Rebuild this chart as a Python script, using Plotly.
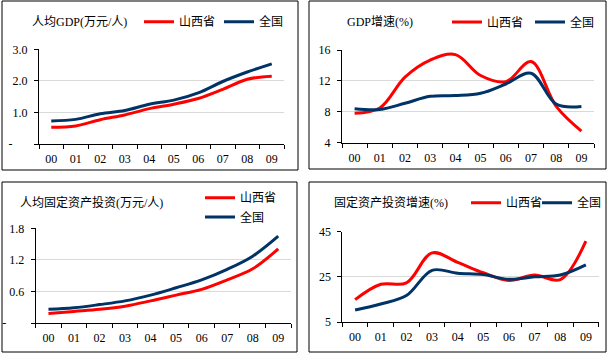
import plotly.graph_objects as go

years = ["00", "01", "02", "03", "04", "05", "06", "07", "08", "09"]

# Panel 1: 人均GDP (万元/人)
gdp_pc_sx = [0.53, 0.57, 0.77, 0.92, 1.12, 1.26, 1.44, 1.73, 2.05, 2.15]
gdp_pc_cn = [0.73, 0.78, 0.96, 1.06, 1.26, 1.39, 1.62, 1.98, 2.28, 2.54]

# Panel 2: GDP增速 (%)
gdp_gr_sx = [7.8, 8.5, 12.5, 14.7, 15.4, 12.7, 11.9, 14.5, 8.7, 5.5]
gdp_gr_cn = [8.4, 8.3, 9.1, 10.0, 10.1, 10.4, 11.6, 13.0, 9.0, 8.7]

# Panel 3: 人均固定资产投资 (万元/人)
fai_pc_sx = [0.18, 0.22, 0.26, 0.32, 0.42, 0.53, 0.64, 0.82, 1.03, 1.41]
fai_pc_cn = [0.26, 0.29, 0.35, 0.42, 0.53, 0.67, 0.82, 1.02, 1.27, 1.65]

# Panel 4: 固定资产投资增速 (%)
fai_gr_sx = [14.9, 21.7, 22.3, 35.6, 31.4, 26.8, 23.4, 25.8, 23.8, 40.8]
fai_gr_cn = [10.3, 13.0, 16.7, 27.9, 26.6, 26.0, 23.9, 25.0, 25.8, 30.3]

name_sx = "山西省"
name_cn = "全国"
RED = "#FF0000"
BLUE = "#003366"

W, H = 607, 353
NUM_FONT = "Liberation Serif, Times New Roman, Noto Sans CJK SC, serif"
CJK_FONT = "Noto Sans CJK SC, sans-serif"

def px(x):
    return x / W

def py(y):
    return 1 - y / H

fig = go.Figure()

# legend positions per panel: (x of 山西省, y of 山西省, x of 全国, y of 全国) in pixels
panels = [
    ("x", "y", gdp_pc_sx, gdp_pc_cn, (39, 284), (49.3, 144), [0, 3],
     [0, 1, 2, 3], ["-\u00a0\u00a0\u00a0\u00a0\u00a0", "1.0", "2.0", "3.0"],
     (139, 21.7, 219, 21.7)),
    ("x2", "y2", gdp_gr_sx, gdp_gr_cn, (342, 594), (50, 142.7), [4, 16],
     [4, 8, 12, 16], ["4", "8", "12", "16"],
     (447, 22, 530, 22)),
    ("x3", "y3", fai_pc_sx, fai_pc_cn, (35.7, 291), (228.3, 323), [0, 1.8],
     [0, 0.6, 1.2, 1.8], ["-\u00a0\u00a0\u00a0\u00a0\u00a0\u00a0", "0.6", "1.2", "1.8"],
     (200, 197.7, 200, 217)),
    ("x4", "y4", fai_gr_sx, fai_gr_cn, (342.3, 598.7), (231.7, 322), [5, 45],
     [5, 25, 45], ["5", "25", "45"],
     (466, 202.7, 537, 202.7)),
]

layout = dict(
    width=W, height=H,
    margin=dict(l=0, r=0, t=0, b=0, autoexpand=False),
    paper_bgcolor="white", plot_bgcolor="white",
    showlegend=True,
)

leg_common = dict(
    font=dict(family=CJK_FONT, size=12, color="black"),
    bgcolor="rgba(0,0,0,0)", borderwidth=0,
    orientation="h", xanchor="left", yanchor="middle",
)

leg_idx = 0
for i, (xa, ya, sx, cn, xd, yd, yr, tv, tt, lp) in enumerate(panels):
    for k, (vals, nm, col) in enumerate(((sx, name_sx, RED), (cn, name_cn, BLUE))):
        leg_idx += 1
        lname = "legend" if leg_idx == 1 else "legend%d" % leg_idx
        fig.add_trace(go.Scatter(
            x=years, y=vals, name=nm, mode="lines",
            line=dict(color=col, width=3, shape="spline", smoothing=1),
            xaxis=xa, yaxis=ya, legend=lname, hoverinfo="skip",
        ))
        lx, ly = lp[2 * k], lp[2 * k + 1]
        layout[lname] = dict(leg_common, x=px(lx), y=py(ly))
    suffix = "" if i == 0 else str(i + 1)
    layout["xaxis" + suffix] = dict(
        domain=[px(xd[0]), px(xd[1])], anchor=ya,
        type="category", range=[-0.5, 9.5],
        showline=True, linecolor="black", linewidth=1,
        ticks="outside", tickson="boundaries", ticklen=4, tickcolor="black",
        showgrid=False, zeroline=False,
        tickfont=dict(family=NUM_FONT, size=12, color="black"),
        ticklabelstandoff=4,
        fixedrange=True,
    )
    layout["yaxis" + suffix] = dict(
        domain=[py(yd[1]), py(yd[0])], anchor=xa,
        range=yr, tickvals=tv, ticktext=tt,
        showline=True, linecolor="black", linewidth=1,
        ticks="outside", ticklen=4, tickcolor="black",
        showgrid=True, gridcolor="#d9d9d9", gridwidth=1, zeroline=False,
        tickfont=dict(family=NUM_FONT, size=12, color="black"),
        ticklabelstandoff=4,
        fixedrange=True,
    )

titles = [
    ("人均GDP(万元/人)", 30, 21.7),
    ("GDP增速(%)", 344.7, 22),
    ("人均固定资产投资(万元/人)", 18, 202),
    ("固定资产投资增速(%)", 332, 202.7),
]
annotations = []
for txt, tx, ty in titles:
    annotations.append(dict(
        text=txt, x=px(tx), y=py(ty), xref="paper", yref="paper",
        xanchor="left", yanchor="middle", showarrow=False,
        font=dict(family=NUM_FONT, size=12, color="black"),
    ))
layout["annotations"] = annotations

frames = [(2, 1, 298, 170), (309, 1, 606, 169), (2, 182, 297, 352), (309, 182, 606, 352)]
shapes = []
for x0, y0, x1, y1 in frames:
    shapes.append(dict(type="rect", xref="paper", yref="paper",
                       x0=px(x0), x1=px(x1), y0=py(y1), y1=py(y0),
                       line=dict(color="black", width=1), fillcolor="rgba(0,0,0,0)"))
layout["shapes"] = shapes

fig.update_layout(**layout)
fig.write_html("out.html")
